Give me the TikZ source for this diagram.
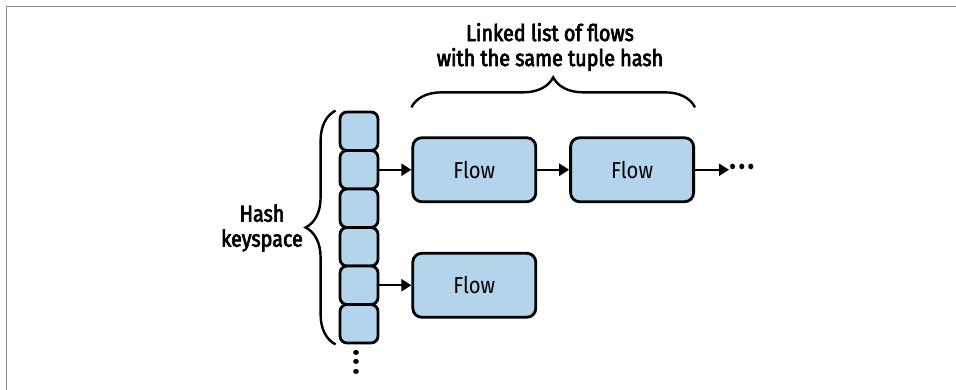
\documentclass[tikz,border=0pt]{standalone}
\usepackage{fontspec}
\setmainfont{Fira Sans}[FakeStretch=0.88]
\newfontfamily\labelfont{Fira Sans}[FakeStretch=0.86,FakeBold=3]
\usetikzlibrary{arrows.meta,positioning,decorations.pathreplacing}
\definecolor{slotblue}{RGB}{179,212,234}
\definecolor{framegray}{RGB}{140,140,140}
\newcommand{\moredots}{\textbullet\kern2pt\textbullet\kern2pt\textbullet}

\begin{document}
\begin{tikzpicture}[x=1pt,y=-1pt,>={Triangle[length=10pt,width=12pt]},
                    every node/.style={font=\fontsize{23}{25}\selectfont},
                    slot/.style={draw,line width=2.8pt,fill=slotblue,rounded corners=7pt,
                                 minimum width=38pt,minimum height=38.5pt,inner sep=0pt},
                    flow/.style={draw,line width=2.8pt,fill=slotblue,rounded corners=9pt,
                                 minimum width=123pt,minimum height=64pt},
                    caption/.style={align=center,font=\fontsize{23}{25}\selectfont\labelfont},
                    link/.style={->,line width=2.2pt},
                    brace/.style={decorate,decoration={brace,amplitude=30pt},line width=2.4pt}]
  \useasboundingbox (0,0) rectangle (956,390);
  \draw[framegray,line width=1pt] (6,390) -- (6,7) -- (956,7);

  % hash keyspace
  \foreach \i in {1,...,6}
    \node[slot] (s\i) at (359,92.75+38.5*\i) {};
  \node[inner sep=0pt,rotate=90,font=\fontsize{25}{25}\selectfont] (vdots) at ([yshift=-18pt]s6.south) {\moredots};

  \node[flow] (A) [right=32pt of s2] {Flow};
  \node[flow] (B) [right=32pt of A]  {Flow};
  \node[inner sep=0pt,font=\fontsize{25}{25}\selectfont] (more) [right=6pt of B.east,xshift=28pt] {\moredots};
  \node[flow] (C) [right=32pt of s5] {Flow};

  \path (s2) edge[link] (A)
        (A)  edge[link] (B)
        (B)  edge[link] (more)
        (s5) edge[link] (C);

  \draw[brace] ([yshift=29pt]A.north west) -- ([yshift=29pt]B.north east);
  \draw[brace] ([xshift=-3pt]s6.south west) -- ([xshift=-3pt]s1.north west);
  \node[caption] (title) at (550,47) {Linked list of flows\\with the same tuple hash};
  \node[caption] (keys)  at (262,228) {Hash\\keyspace};
\end{tikzpicture}
\end{document}
